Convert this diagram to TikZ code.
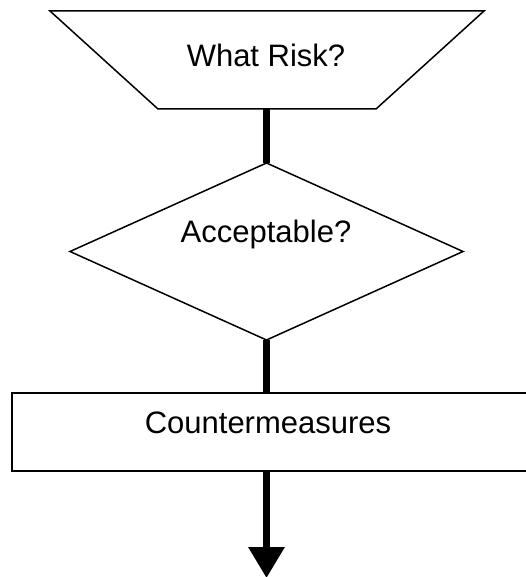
\documentclass[tikz,border=0pt]{standalone}
\usepackage{fontspec}
\setmainfont{Liberation Sans}
\usetikzlibrary{shapes.geometric,arrows.meta}
\begin{document}
\begin{tikzpicture}[x=1pt,y=-1pt,
  shapeline/.style={draw=black,line width=1.5pt,line join=miter},
  flow/.style={draw=black,line width=6.5pt},
  lbl/.style={font=\fontsize{31}{36}\selectfont,anchor=base,inner sep=0pt}]
\useasboundingbox (0,0) rectangle (525,577);
% What Risk? (inverted trapezium)
\draw[shapeline] (50,11) -- (484,11) -- (376,109) -- (158,109) -- cycle;
\coordinate (riskbottom) at (266.5,109);
\node[lbl] (risk) at (266,67) {What Risk?};
% Acceptable? (diamond)
\node[shapeline,diamond,minimum width=393pt,minimum height=177pt,inner sep=0pt,outer sep=0pt] (accept) at (266.5,251.5) {};
\node[lbl] (accepttext) at (266,242) {Acceptable?};
% Countermeasures (rectangle)
\node[shapeline,rectangle,minimum width=516pt,minimum height=78pt,inner sep=0pt,outer sep=0pt] (counter) at (270,432) {};
\node[lbl] (countertext) at (268,433) {Countermeasures};
\coordinate (end) at (266.5,578);
% connectors
\draw[flow] (riskbottom) -- (accept.north);
\draw[flow] (accept.south) -- (accept.south |- counter.north);
\draw[flow,-{Triangle[width=35pt,length=31pt]}] (accept.south |- counter.south) -- (end);
\end{tikzpicture}
\end{document}
